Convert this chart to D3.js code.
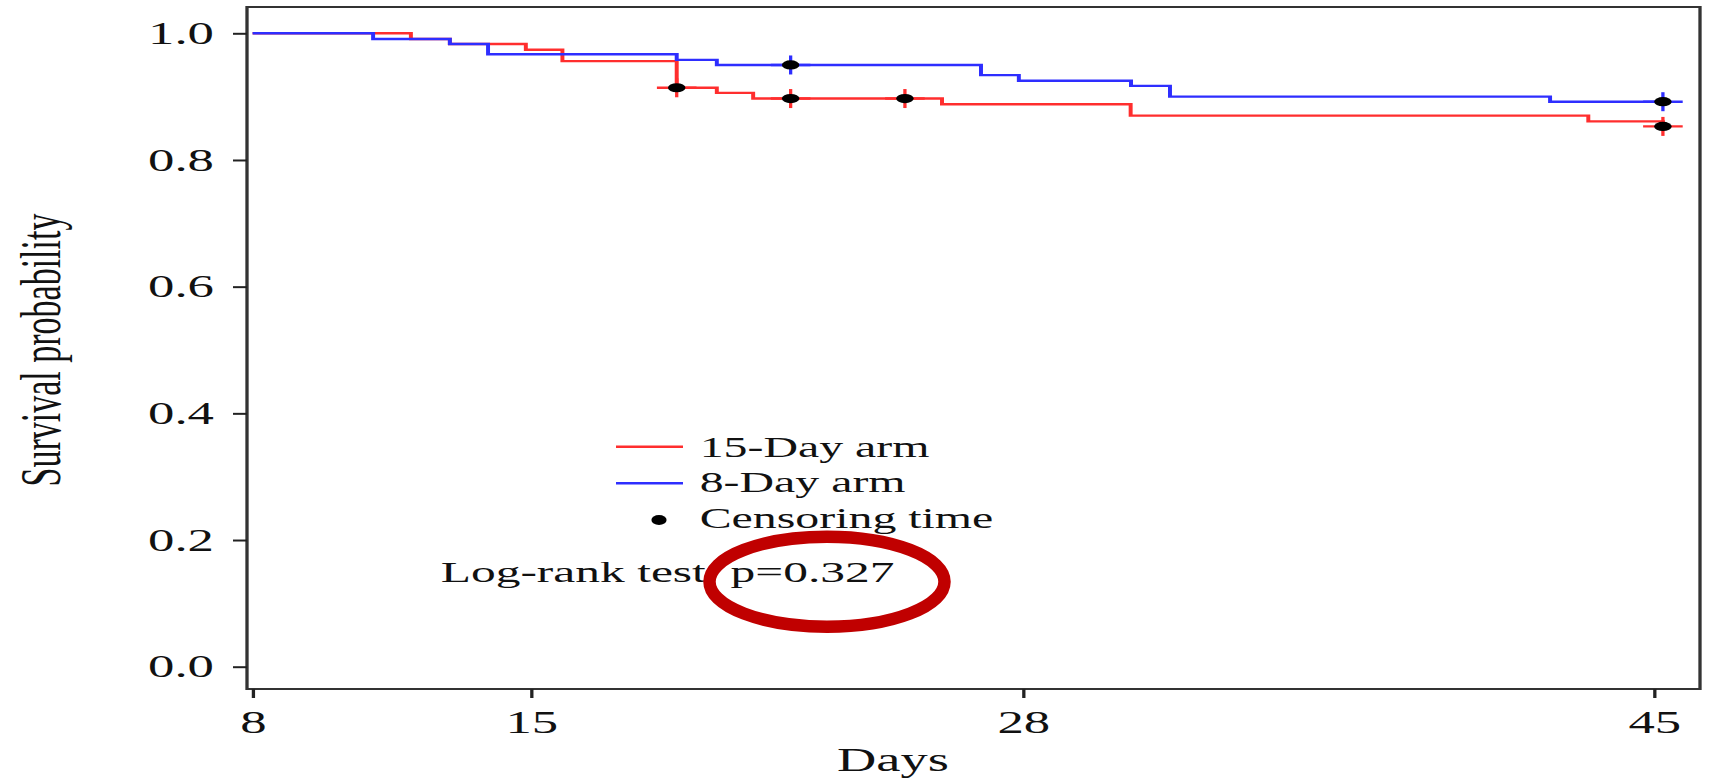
<!DOCTYPE html>
<html>
<head>
<meta charset="utf-8">
<script src="https://cdn.jsdelivr.net/npm/d3@7"></script>
<style>
  body { margin: 0; background: #fff; }
  svg text { font-family: "Liberation Serif", "Times New Roman", serif; fill: #111; }
</style>
</head>
<body>
<div id="chart"></div>
<script>
// axis ticks
var xTicks = [8, 15, 28, 45];
var yTicks = [0, 0.2, 0.4, 0.6, 0.8, 1.0];

// 15-Day arm (red): step times and survival after each step
var redTimes = [8, 11.98, 12.96, 14.87, 15.83, 18.85, 19.91, 20.87, 25.86, 30.9, 43.23, 45.24];
var redSurv  = [1.0, 0.991, 0.983, 0.974, 0.956, 0.914, 0.906, 0.897, 0.888, 0.870, 0.861, 0.853];
var redCensor = [18.85, 21.86, 24.88, 45.24];

// 8-Day arm (blue)
var blueTimes = [8, 11.03, 12.96, 13.92, 18.85, 19.91, 26.89, 27.89, 30.91, 31.96, 42.2, 45.24];
var blueSurv  = [1.0, 0.991, 0.983, 0.967, 0.958, 0.950, 0.934, 0.925, 0.917, 0.900, 0.892, 0.892];
var blueCensor = [21.86, 45.24];

var legendLabels = ['15-Day arm', '8-Day arm', 'Censoring time'];
var pValueText = 'Log-rank test  p=0.327';

const width = 1714, height = 778;
const K = 1.65;   // the original figure is stretched sideways
const frameL = 247, frameR = 1700, frameT = 7, frameB = 689;

var x = d3.scaleLinear()
    .domain(xTicks)
    .range([252.6, 531, 1023, 1654].map(function(v){ return v / K; }));
var y = d3.scaleLinear()
    .domain([0, 1])
    .range([666.7, 33.3]);

var svg = d3.select('#chart')
    .append('svg')
    .attr('width', width)
    .attr('height', height)
    .style('background', '#fff');

var g = svg.append('g').attr('transform', 'scale(' + K + ',1)');

// frame
g.append('rect')
    .attr('x', frameL / K).attr('y', frameT)
    .attr('width', (frameR - frameL) / K).attr('height', frameB - frameT)
    .attr('fill', 'none')
    .attr('stroke', '#333')
    .attr('stroke-width', 2);

// axes
var yAxis = g.append('g')
    .attr('transform', 'translate(' + (frameL / K) + ',0)')
    .call(d3.axisLeft(y).tickValues(yTicks).tickFormat(d3.format('.1f'))
        .tickSize(14 / K).tickPadding(19 / K));
var xAxis = g.append('g')
    .attr('transform', 'translate(0,' + frameB + ')')
    .call(d3.axisBottom(x).tickValues(xTicks).tickSize(9).tickPadding(12));
[yAxis, xAxis].forEach(function(a){
    a.select('.domain').remove();
    a.attr('font-family', null).attr('font-size', null);
    a.selectAll('.tick line').attr('stroke', '#222').attr('stroke-width', 2);
    a.selectAll('.tick text').style('font-size', '32px').attr('fill', '#111');
});

// axis titles
g.append('text')
    .attr('transform', 'translate(' + (60 / K) + ',350) rotate(-90)')
    .attr('text-anchor', 'middle')
    .style('font-size', '34px')
    .text('Survival probability');
g.append('text')
    .attr('x', 893 / K).attr('y', 771)
    .attr('text-anchor', 'middle')
    .style('font-size', '33px')
    .text('Days');

// survival curves
var arms = [
    {times: redTimes, surv: redSurv, censor: redCensor, color: '#ff2e2e'},
    {times: blueTimes, surv: blueSurv, censor: blueCensor, color: '#2e2eff'}
];
var line = d3.line()
    .x(function(d){ return x(d[0]); })
    .y(function(d){ return y(d[1]); })
    .curve(d3.curveStepAfter);

arms.forEach(function(arm){
    g.append('path')
        .datum(d3.zip(arm.times, arm.surv))
        .attr('d', line)
        .attr('fill', 'none')
        .attr('stroke', arm.color)
        .attr('stroke-width', 2.4);
});

// censoring marks: "+" in arm colour with a black dot
function survAt(arm, t){
    var i = d3.bisectRight(arm.times, t) - 1;
    return arm.surv[Math.max(i, 0)];
}
arms.forEach(function(arm){
    var marks = g.selectAll(null)
        .data(arm.censor.map(function(t){ return [t, survAt(arm, t)]; }))
        .enter()
        .append('g')
        .attr('transform', function(d){ return 'translate(' + x(d[0]) + ',' + y(d[1]) + ')'; });
    marks.append('line')
        .attr('x1', -12).attr('x2', 12)
        .attr('stroke', arm.color).attr('stroke-width', 2.4);
    marks.append('line')
        .attr('y1', -9.5).attr('y2', 9.5)
        .attr('stroke', arm.color).attr('stroke-width', 2);
    marks.append('ellipse')
        .attr('rx', 5.3).attr('ry', 4.6)
        .attr('fill', '#000');
});

// legend
var legend = g.append('g');
arms.forEach(function(arm, i){
    legend.append('line')
        .attr('x1', 616 / K).attr('x2', 683 / K)
        .attr('y1', 446.7 + i * 36.6).attr('y2', 446.7 + i * 36.6)
        .attr('stroke', arm.color).attr('stroke-width', 2.4);
});
legend.append('ellipse')
    .attr('cx', 659 / K).attr('cy', 520)
    .attr('rx', 4.6).attr('ry', 5)
    .attr('fill', '#000');
legend.selectAll('text')
    .data(legendLabels)
    .enter()
    .append('text')
    .attr('x', 699.7 / K)
    .attr('y', function(d, i){ return 456.7 + i * 35.8; })
    .style('font-size', '29px')
    .text(function(d){ return d; });

g.append('text')
    .attr('x', 440.7 / K).attr('y', 581.7)
    .style('font-size', '30px')
    .style('white-space', 'pre')
    .text(pValueText);

// red highlight drawn over the figure
svg.append('ellipse')
    .attr('cx', 827).attr('cy', 581.7)
    .attr('rx', 117.5).attr('ry', 45)
    .attr('fill', 'none')
    .attr('stroke', '#c00000')
    .attr('stroke-width', 12.5);
</script>
</body>
</html>
